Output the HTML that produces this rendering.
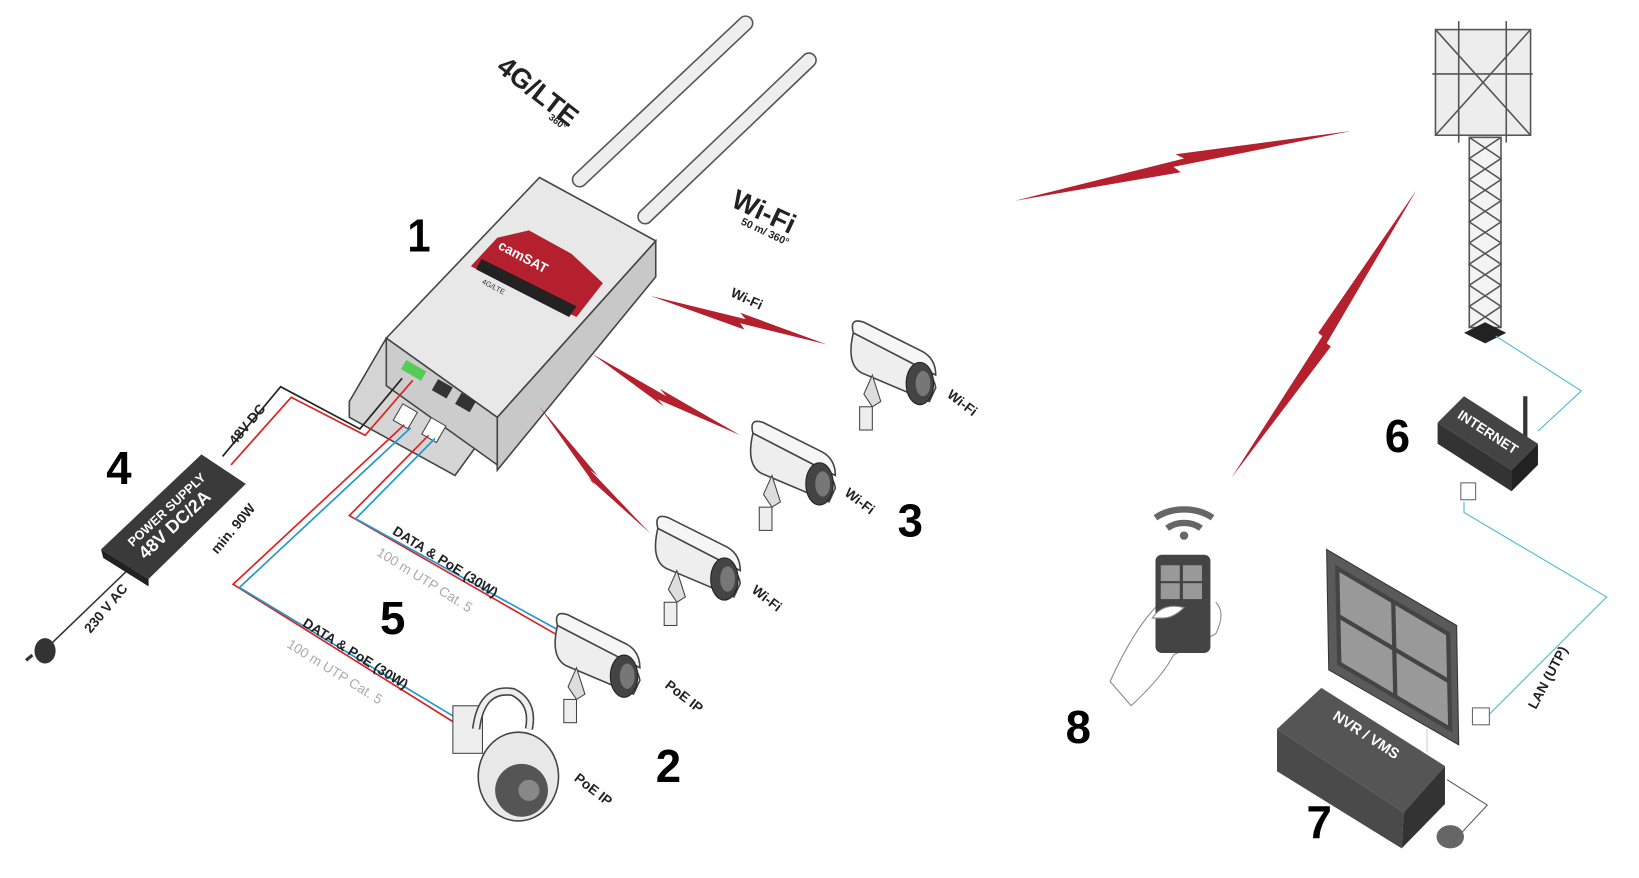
<!DOCTYPE html>
<html><head><meta charset="utf-8"><style>
html,body{margin:0;padding:0;background:#fff;}
svg{display:block;}
text{font-family:"Liberation Sans",sans-serif;}
.num{font-size:44px;font-weight:bold;fill:#000;}
.lbl{font-size:13px;font-weight:bold;fill:#222;}
.gry{font-size:13px;fill:#aaa;}
</style></head><body>
<svg width="1639" height="878" viewBox="0 0 1550 831" xmlns="http://www.w3.org/2000/svg">
<defs>
<g id="cam">
  <path d="M-48,-30 L10,0 Q28,8 30,22 L24,35 L-40,8 Q-55,0 -48,-30Z" fill="#eee" stroke="#444" stroke-width="1.5"/>
  <path d="M-48,-30 Q-52,-45 -38,-40 L18,-12 Q30,-5 30,10 L10,0Z" fill="#f6f6f6" stroke="#444" stroke-width="1.5"/>
  <ellipse cx="15" cy="18" rx="13" ry="20" fill="#444" stroke="#222"/>
  <ellipse cx="18" cy="18" rx="7" ry="12" fill="#777"/>
  <path d="M-30,10 L-22,35 L-30,40 L-38,28Z" fill="#ddd" stroke="#444"/>
  <rect x="-42" y="40" width="12" height="22" fill="#eee" stroke="#444"/>
</g>
</defs>

<!-- antennas -->
<line x1="548" y1="170" x2="705" y2="22" stroke="#555" stroke-width="15" stroke-linecap="round"/>
<line x1="548" y1="170" x2="705" y2="22" stroke="#eee" stroke-width="12" stroke-linecap="round"/>
<line x1="610" y1="205" x2="765" y2="57" stroke="#555" stroke-width="15" stroke-linecap="round"/>
<line x1="610" y1="205" x2="765" y2="57" stroke="#eee" stroke-width="12" stroke-linecap="round"/>

<!-- router body -->
<polygon points="330,380 365,320 470,395 430,450 330,395" fill="#d5d5d5" stroke="#444" stroke-width="1.5"/>
<polygon points="620,228 620,262 470,445 470,395" fill="#c8c8c8" stroke="#444" stroke-width="1.5"/>
<polygon points="510,168 620,228 470,395 365,320" fill="#e8e8e8" stroke="#444" stroke-width="1.5"/>
<polygon points="365,320 470,395 470,440 365,365" fill="#ccc" stroke="#444" stroke-width="1.5"/>
<polygon points="470,225 500,218 540,240 570,268 545,300 445,252" fill="#b5202e"/>
<polygon points="455,245 545,290 538,300 450,255" fill="#222"/>
<text x="0" y="0" transform="translate(470,235) rotate(28)" font-size="13" font-weight="bold" fill="#fff">camSAT</text>
<text x="0" y="0" transform="translate(455,268) rotate(28)" font-size="7" fill="#333">4G/LTE</text>
<rect x="380" y="345" width="22" height="10" fill="#5c5" transform="rotate(30 390 350)"/>
<rect x="410" y="362" width="16" height="12" fill="#333" transform="rotate(30 418 368)"/>
<rect x="432" y="375" width="16" height="12" fill="#333" transform="rotate(30 440 381)"/>
<rect x="375" y="385" width="16" height="18" fill="#fff" stroke="#444" transform="rotate(30 383 394)"/>
<rect x="402" y="398" width="16" height="18" fill="#fff" stroke="#444" transform="rotate(30 410 407)"/>

<!-- power cables -->
<polyline points="380,358 340,406 265,366 210,432" fill="none" stroke="#222" stroke-width="1.6"/>
<polyline points="390,360 345,412 275,376 218,440" fill="none" stroke="#d22" stroke-width="1.6"/>
<!-- data cables -->
<polyline points="382,402 220,553 428,683" fill="none" stroke="#d22" stroke-width="1.6"/>
<polyline points="388,405 226,556 432,680" fill="none" stroke="#29c" stroke-width="1.6"/>
<polyline points="405,412 330,488 525,600" fill="none" stroke="#d22" stroke-width="1.6"/>
<polyline points="411,415 336,491 529,597" fill="none" stroke="#29c" stroke-width="1.6"/>

<!-- power supply -->
<line x1="125" y1="535" x2="45" y2="612" stroke="#333" stroke-width="1.5"/>
<polygon points="95,520 190,430 232,458 140,548" fill="#3a3a3a"/>
<polygon points="95,520 140,548 140,555 97,528" fill="#222"/>
<text transform="translate(125,518) rotate(-43)" font-size="12" font-weight="bold" fill="#fff">POWER SUPPLY</text>
<text transform="translate(137,530) rotate(-43)" font-size="17" font-weight="bold" fill="#fff">48V DC/2A</text>
<ellipse cx="42" cy="616" rx="10" ry="12" fill="#333"/>
<line x1="30" y1="620" x2="24" y2="625" stroke="#333" stroke-width="3"/>
<text class="lbl" transform="translate(222,422) rotate(-50)">48V DC</text>
<text class="lbl" transform="translate(205,525) rotate(-50)">min. 90W</text>
<text class="lbl" transform="translate(85,600) rotate(-50)">230 V AC</text>

<!-- lightning -->
<g fill="#b5202e">
<polygon points="615,280 705,302 700,296 782,326 700,306 704,312"/>
<polygon points="560,335 630,375 624,368 700,412 622,378 628,385"/>
<polygon points="510,385 565,450 558,445 615,505 556,452 563,460"/>
<polygon points="960,190 1120,150 1112,146 1278,124 1110,158 1117,163"/>
<polygon points="1165,452 1251,318 1247,315 1340,180 1255,325 1259,328"/>
</g>

<!-- cameras -->
<use href="#cam" x="855" y="345"/>
<use href="#cam" x="760" y="440"/>
<use href="#cam" x="670" y="530"/>
<use href="#cam" x="575" y="622"/>
<!-- dome -->
<rect x="428" y="668" width="28" height="45" fill="#eee" stroke="#444"/>
<path d="M450,690 Q455,650 485,655 Q505,665 500,690" fill="none" stroke="#444" stroke-width="8"/>
<path d="M450,690 Q455,650 485,655 Q505,665 500,690" fill="none" stroke="#eee" stroke-width="5"/>
<ellipse cx="490" cy="735" rx="38" ry="42" fill="#e8e8e8" stroke="#444" stroke-width="1.5"/>
<circle cx="493" cy="748" r="25" fill="#555"/>
<circle cx="500" cy="748" r="10" fill="#888"/>

<text class="lbl" transform="translate(895,375) rotate(38)">Wi-Fi</text>
<text class="lbl" transform="translate(798,468) rotate(38)">Wi-Fi</text>
<text class="lbl" transform="translate(710,560) rotate(38)">Wi-Fi</text>
<text class="lbl" transform="translate(628,650) rotate(38)">PoE IP</text>
<text class="lbl" transform="translate(542,738) rotate(38)">PoE IP</text>
<text class="lbl" transform="translate(690,280) rotate(25)" font-size="11">Wi-Fi</text>
<text class="lbl" transform="translate(370,505) rotate(32)">DATA &amp; PoE (30W)</text>
<text class="gry" transform="translate(355,525) rotate(32)">100 m UTP Cat. 5</text>
<text class="lbl" transform="translate(285,592) rotate(32)">DATA &amp; PoE (30W)</text>
<text class="gry" transform="translate(270,612) rotate(32)">100 m UTP Cat. 5</text>
<text transform="translate(468,66) rotate(38)" font-size="26" font-weight="bold" fill="#222">4G/LTE</text>
<text transform="translate(518,112) rotate(38)" font-size="9" font-weight="bold" fill="#222">360°</text>
<text transform="translate(690,195) rotate(25)" font-size="26" font-weight="bold" fill="#222">Wi-Fi</text>
<text transform="translate(700,212) rotate(25)" font-size="10" font-weight="bold" fill="#222">50 m/ 360°</text>

<!-- tower -->
<g stroke="#555" stroke-width="1.5" fill="none">
<rect x="1358" y="28" width="90" height="100" fill="#ededed"/>
<line x1="1358" y1="28" x2="1448" y2="128"/><line x1="1448" y1="28" x2="1358" y2="128"/>
<line x1="1380" y1="20" x2="1380" y2="135"/><line x1="1425" y1="20" x2="1425" y2="135"/>
<line x1="1355" y1="70" x2="1450" y2="70"/>
<rect x="1390" y="130" width="30" height="180" fill="#f3f3f3"/>
<path d="M1390,130 L1420,150 L1390,170 L1420,190 L1390,210 L1420,230 L1390,250 L1420,270 L1390,290 L1420,310"/>
<path d="M1420,130 L1390,150 L1420,170 L1390,190 L1420,210 L1390,230 L1420,250 L1390,270 L1420,290 L1390,310"/>
</g>
<polygon points="1385,315 1405,305 1425,315 1405,325" fill="#222"/>
<!-- lan lines -->
<polyline points="1415,318 1496,370 1455,408" fill="none" stroke="#4bc" stroke-width="1"/>
<polyline points="1385,475 1385,485 1520,565 1405,680" fill="none" stroke="#4bc" stroke-width="1"/>
<polyline points="1369,738 1407,762 1381,790" fill="none" stroke="#555" stroke-width="1"/>
<!-- router 6 -->
<line x1="1443" y1="375" x2="1443" y2="420" stroke="#333" stroke-width="4"/>
<polygon points="1360,400 1385,375 1455,420 1430,445" fill="#444"/>
<polygon points="1360,400 1430,445 1430,465 1360,420" fill="#333"/>
<polygon points="1430,445 1455,420 1455,440 1430,465" fill="#222"/>
<text transform="translate(1378,395) rotate(33)" font-size="13" font-weight="bold" fill="#fff">INTERNET</text>
<rect x="1382" y="457" width="14" height="16" fill="#fff" stroke="#666"/>
<rect x="1393" y="670" width="16" height="16" fill="#fff" stroke="#666"/>
<text class="lbl" transform="translate(1453,672) rotate(-62)" font-size="10">LAN (UTP)</text>

<!-- monitor -->
<polygon points="1255,520 1378,592 1380,705 1257,634" fill="#5a5a5a" stroke="#333"/>
<polygon points="1265,538 1370,600 1372,690 1267,628" fill="#999" stroke="#444" stroke-width="4"/>
<line x1="1318" y1="569" x2="1320" y2="659" stroke="#444" stroke-width="4"/>
<line x1="1266" y1="583" x2="1371" y2="645" stroke="#444" stroke-width="4"/>
<line x1="1350" y1="690" x2="1350" y2="712" stroke="#ccc"/>
<!-- NVR -->
<polygon points="1208,690 1250,651 1367,725 1328,769" fill="#555"/>
<polygon points="1208,690 1328,769 1326,803 1208,730" fill="#4a4a4a"/>
<polygon points="1328,769 1367,725 1367,761 1326,803" fill="#333"/>
<text transform="translate(1260,680) rotate(33)" font-size="14" font-weight="bold" fill="#fff">NVR / VMS</text>
<ellipse cx="1372" cy="792" rx="13" ry="11" fill="#666"/>

<!-- phone -->
<path d="M1093,490 A40,30 0 0 1 1147,490" fill="none" stroke="#666" stroke-width="6"/>
<path d="M1104,500 A22,16 0 0 1 1136,500" fill="none" stroke="#666" stroke-width="6"/>
<circle cx="1120" cy="507" r="4" fill="#666"/>
<path d="M1100,568 Q1075,590 1050,645 L1070,668 Q1100,640 1110,620 L1150,600 Q1160,580 1150,570" fill="#fff" stroke="#888"/>
<rect x="1093" y="525" width="52" height="93" rx="6" fill="#444"/>
<rect x="1098" y="535" width="18" height="15" fill="#999"/><rect x="1119" y="535" width="18" height="15" fill="#999"/>
<rect x="1098" y="552" width="18" height="15" fill="#999"/><rect x="1119" y="552" width="18" height="15" fill="#999"/>
<path d="M1090,585 Q1100,570 1120,575 Q1110,585 1100,585Z" fill="#fff" stroke="#888"/>

<!-- numbers -->
<text class="num" x="385" y="238" textLength="22" lengthAdjust="spacingAndGlyphs">1</text>
<text class="num" x="620" y="740" textLength="24" lengthAdjust="spacingAndGlyphs">2</text>
<text class="num" x="849" y="508" textLength="24" lengthAdjust="spacingAndGlyphs">3</text>
<text class="num" x="100" y="458" textLength="24" lengthAdjust="spacingAndGlyphs">4</text>
<text class="num" x="359" y="600" textLength="24" lengthAdjust="spacingAndGlyphs">5</text>
<text class="num" x="1310" y="428" textLength="24" lengthAdjust="spacingAndGlyphs">6</text>
<text class="num" x="1236" y="793" textLength="24" lengthAdjust="spacingAndGlyphs">7</text>
<text class="num" x="1008" y="703" textLength="24" lengthAdjust="spacingAndGlyphs">8</text>
</svg>
</body></html>
